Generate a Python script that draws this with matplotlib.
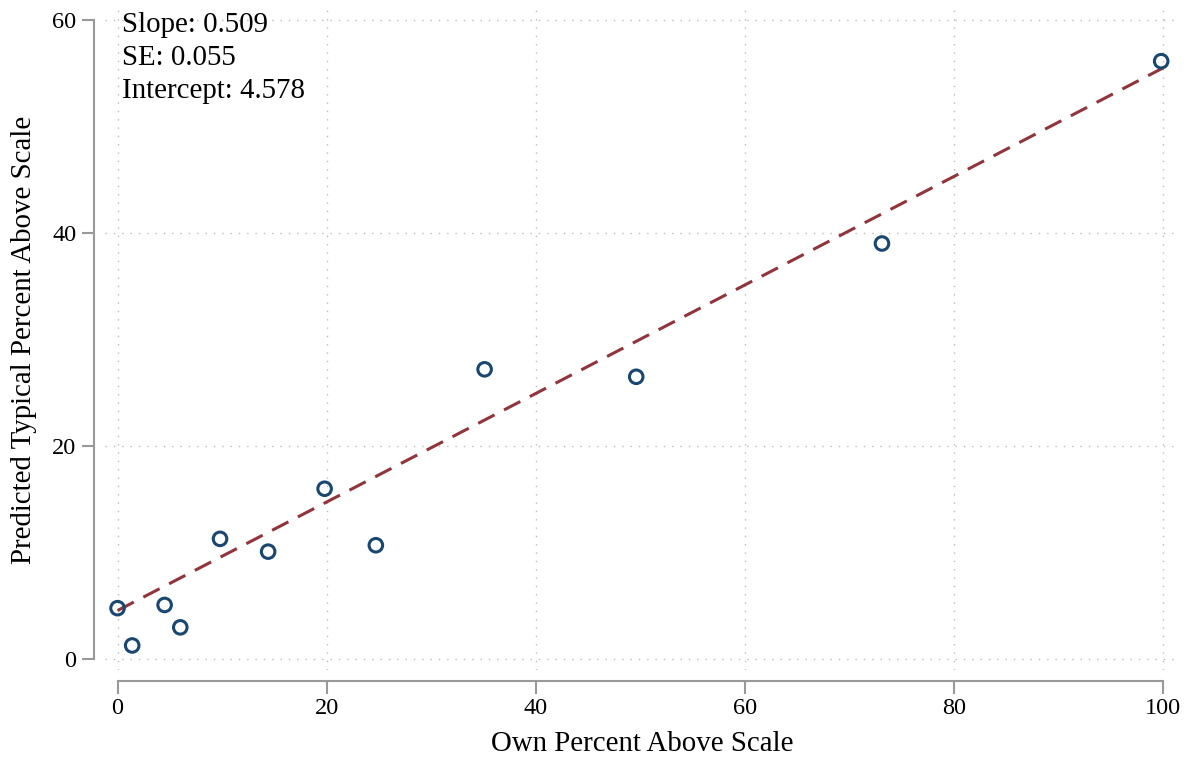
import matplotlib.pyplot as plt
import matplotlib.transforms as mtransforms
import numpy as np

plt.rcParams['font.family'] = ['Liberation Serif', 'DejaVu Serif']

own = [0.0, 1.4, 4.5, 6.0, 9.8, 14.4, 19.8, 24.7, 35.1, 49.6, 73.1, 99.8]
typical = [4.8, 1.3, 5.1, 3.0, 11.3, 10.1, 16.0, 10.7, 27.2, 26.5, 39.0, 56.1]

slope = 0.509
se = 0.055
intercept = 4.578

fig = plt.figure(figsize=(11.91, 7.61), dpi=100)
ax = fig.add_axes([105 / 1191, 91 / 761, 1075 / 1191, 660 / 761])

xs = np.array([0, 100])
ax.plot(xs, intercept + slope * xs, '--', color='#90353b', linewidth=2.2,
        dashes=(6, 3.5), zorder=2)
ax.scatter(own, typical, s=95, facecolors='none', edgecolors='#1a476f',
           linewidths=2.2, zorder=3)

ax.set_xlim(-1.2, 101.6)
ax.set_ylim(-1.0, 60.9)
ax.set_xticks([0, 20, 40, 60, 80, 100])
ax.set_yticks([0, 20, 40, 60])
ax.grid(True, linestyle=(0, (1, 5)), color='#bbbbbb', linewidth=1.0)
ax.set_axisbelow(True)

for s in ['top', 'right']:
    ax.spines[s].set_visible(False)
ax.spines['left'].set_position(('outward', 8))
ax.spines['bottom'].set_position(('outward', 8))
ax.spines['left'].set_bounds(0, 60)
ax.spines['bottom'].set_bounds(0, 100)
for s in ['left', 'bottom']:
    ax.spines[s].set_color('#999999')
    ax.spines[s].set_linewidth(1.5)
ax.tick_params(colors='#999999', length=9, width=1.5, labelsize=17.5,
               labelcolor='black')

ax.set_xlabel('Own Percent Above Scale', fontsize=20.8, labelpad=8)
ax.set_ylabel('Predicted Typical Percent Above Scale', fontsize=20.8, labelpad=11)

trans = mtransforms.blended_transform_factory(ax.transData, ax.transAxes)
ax.text(0.45, 0.997, 'Slope: %.3f\nSE: %.3f\nIntercept: %.3f' % (slope, se, intercept),
        transform=trans, ha='left', va='top', fontsize=20.8,
        linespacing=1.35)

plt.savefig('out.png', dpi=100)
